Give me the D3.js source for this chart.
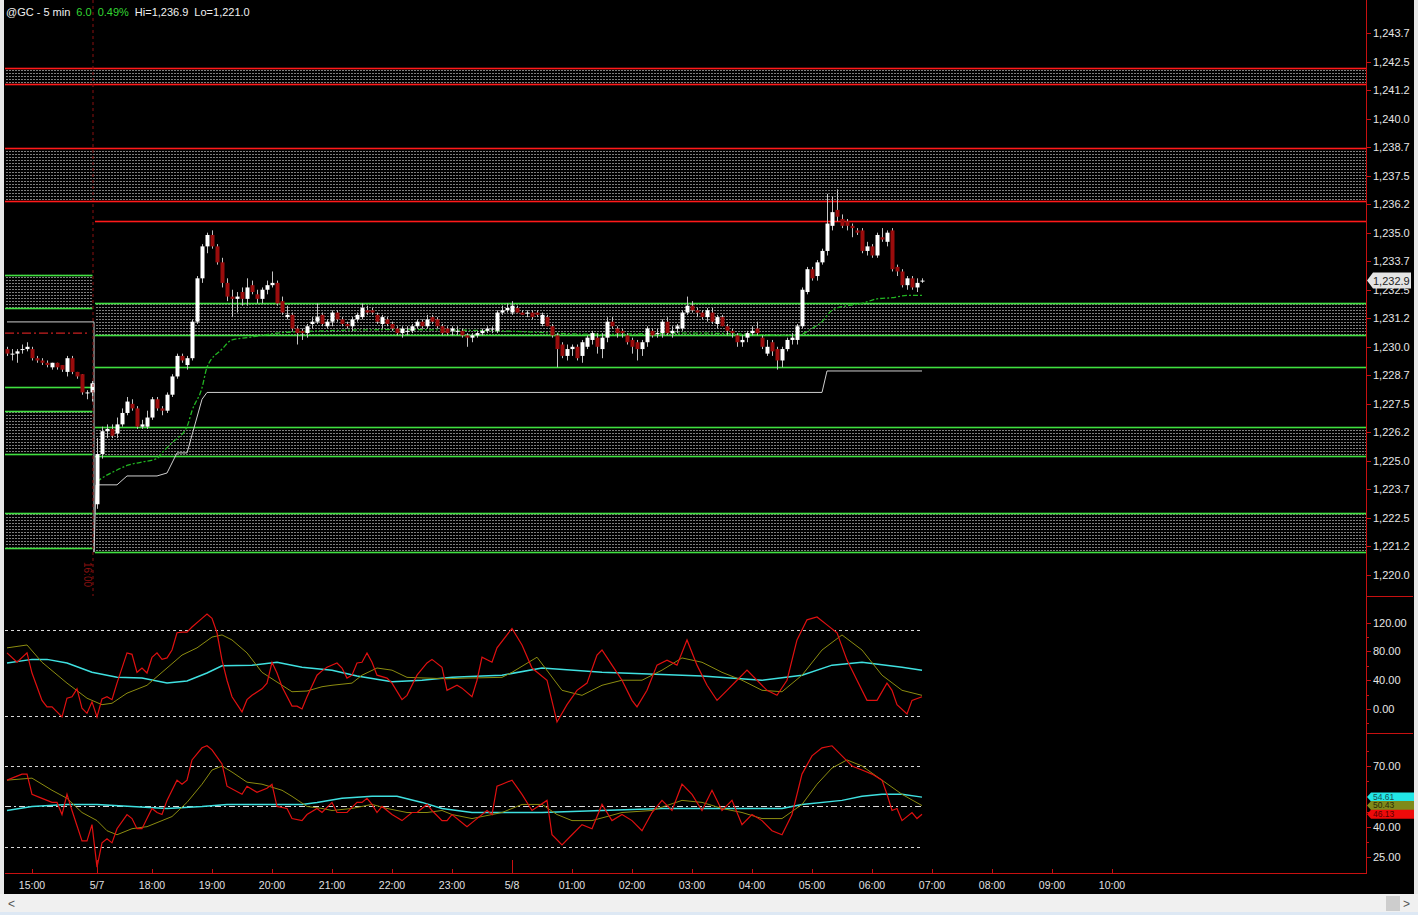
<!DOCTYPE html>
<html><head><meta charset="utf-8">
<script src="https://cdn.jsdelivr.net/npm/d3@7"></script>
<style>
html,body{margin:0;padding:0;background:#000;overflow:hidden}
svg{display:block}
text{font-family:"Liberation Sans",Arial,sans-serif}
</style></head><body>
<svg id="c" width="1418" height="915"></svg>
<script>
// ---------------- DATA ----------------
const symbolTitle = "@GC - 5 min";
const netChange = "6.0";
const pctChange = "0.49%";
const hiText = "Hi=1,236.9";
const loText = "Lo=1,221.0";
const lastPrice = 1232.9;
const firstBar = -18; // bar index of first candle (0 = 17:05 bar of 5/7)
// [open, high, low, close]
const ohlc = [
[1229.9,1230.0,1229.6,1229.7],[1229.7,1229.9,1229.4,1229.7],[1229.7,1229.9,1229.3,1229.8],[1229.9,1230.1,1229.7,1229.9],
[1229.9,1230.2,1229.8,1230.0],[1229.9,1230.0,1229.4,1229.5],[1229.5,1229.6,1229.3,1229.4],[1229.4,1229.5,1229.2,1229.3],
[1229.3,1229.4,1229.1,1229.2],[1229.1,1229.3,1229.0,1229.3],[1229.3,1229.3,1229.0,1229.1],[1229.2,1229.2,1228.9,1229.0],
[1228.9,1229.6,1228.7,1229.5],[1229.5,1229.6,1228.8,1228.9],[1228.9,1228.9,1228.6,1228.7],[1228.8,1228.8,1227.9,1228.0],
[1228.0,1228.1,1227.7,1228.0],[1228.0,1228.5,1227.6,1228.4],
// session 5/7
[1223.1,1226.0,1222.9,1225.3],[1225.3,1226.5,1225.1,1226.3],[1226.3,1226.6,1226.0,1226.4],[1226.4,1226.6,1226.0,1226.1],
[1226.2,1226.9,1226.0,1226.6],[1226.6,1227.3,1226.5,1227.1],[1227.1,1227.8,1227.0,1227.6],[1227.5,1227.7,1227.2,1227.3],
[1227.3,1227.4,1226.4,1226.5],[1226.5,1226.8,1226.4,1226.6],[1226.5,1227.2,1226.4,1226.9],[1226.9,1227.8,1226.8,1227.7],
[1227.7,1227.8,1227.2,1227.3],[1227.3,1227.4,1227.0,1227.2],[1227.2,1228.0,1227.1,1227.9],[1227.9,1228.8,1227.8,1228.7],
[1228.7,1229.7,1228.6,1229.6],[1229.6,1229.7,1229.3,1229.4],[1229.2,1229.6,1229.0,1229.5],[1229.5,1231.2,1229.4,1231.1],
[1231.1,1233.1,1231.0,1233.0],[1233.0,1234.5,1232.8,1234.4],[1234.4,1235.0,1234.1,1234.9],[1234.9,1235.1,1234.3,1234.4],
[1234.4,1234.5,1233.6,1233.7],[1233.7,1233.9,1232.6,1232.8],[1232.8,1233.0,1232.0,1232.2],[1232.2,1232.5,1231.3,1232.1],
[1232.1,1232.4,1231.5,1232.2],[1232.4,1232.6,1231.8,1232.1],[1232.1,1233.0,1231.8,1232.6],[1232.7,1232.9,1232.3,1232.4],
[1232.3,1232.5,1231.9,1232.1],[1232.1,1232.6,1231.9,1232.5],[1232.5,1232.9,1232.3,1232.7],[1232.7,1233.3,1232.6,1232.8],
[1232.8,1232.9,1231.8,1231.9],[1232.0,1232.2,1231.4,1231.5],[1231.3,1231.8,1231.2,1231.4],[1231.4,1231.5,1230.7,1230.8],
[1230.8,1230.9,1230.1,1230.6],[1230.7,1230.8,1230.3,1230.6],[1230.6,1231.0,1230.4,1230.9],[1231.0,1231.3,1230.8,1231.1],
[1231.1,1231.9,1231.0,1231.3],[1231.4,1231.5,1230.9,1231.0],[1230.9,1231.2,1230.8,1231.1],[1231.1,1231.6,1230.9,1231.5],
[1231.5,1231.6,1231.1,1231.2],[1231.2,1231.3,1230.9,1231.0],[1231.0,1231.1,1230.8,1230.9],[1230.9,1231.3,1230.7,1231.2],
[1231.2,1231.5,1231.1,1231.4],[1231.3,1231.9,1231.2,1231.7],[1231.6,1231.8,1231.4,1231.5],[1231.6,1231.7,1231.4,1231.5],
[1231.4,1231.5,1231.0,1231.1],[1231.0,1231.4,1230.8,1231.3],[1231.2,1231.3,1230.9,1231.0],[1231.0,1231.1,1230.7,1230.8],
[1230.8,1230.9,1230.5,1230.6],[1230.6,1230.9,1230.4,1230.8],[1230.7,1230.9,1230.5,1230.7],[1230.7,1231.0,1230.6,1230.9],
[1230.9,1231.2,1230.8,1231.1],[1231.1,1231.2,1230.8,1230.9],[1230.9,1231.4,1230.8,1231.2],[1231.3,1231.4,1231.0,1231.1],
[1231.2,1231.3,1230.8,1230.9],[1230.9,1231.0,1230.5,1230.6],[1230.8,1230.9,1230.5,1230.6],[1230.7,1230.9,1230.5,1230.8],
[1230.7,1230.9,1230.5,1230.7],[1230.7,1230.8,1230.4,1230.5],[1230.5,1230.6,1230.0,1230.4],[1230.4,1230.6,1230.2,1230.5],
[1230.5,1230.7,1230.4,1230.6],[1230.6,1230.8,1230.5,1230.7],[1230.7,1230.9,1230.6,1230.8],[1230.8,1230.9,1230.6,1230.8],
[1230.7,1231.6,1230.6,1231.5],[1231.5,1231.8,1231.4,1231.6],[1231.6,1231.9,1231.5,1231.7],[1231.5,1232.0,1231.4,1231.8],
[1231.7,1231.8,1231.5,1231.5],[1231.5,1231.6,1231.4,1231.4],[1231.5,1231.6,1231.3,1231.5],[1231.5,1231.6,1231.2,1231.3],
[1231.5,1231.6,1231.3,1231.4],[1231.0,1231.5,1230.9,1231.4],[1231.3,1231.4,1230.9,1230.9],[1230.9,1231.0,1230.4,1230.5],
[1230.5,1230.6,1229.1,1229.9],[1230.1,1230.2,1229.5,1229.6],[1229.6,1230.1,1229.4,1229.9],[1229.9,1230.1,1229.6,1230.0],
[1230.0,1230.1,1229.4,1229.5],[1229.6,1230.3,1229.3,1230.2],[1230.0,1230.5,1229.9,1230.4],[1230.3,1230.7,1230.1,1230.6],
[1230.4,1230.6,1229.7,1230.0],[1229.9,1230.6,1229.5,1230.4],[1230.4,1231.3,1230.2,1231.1],[1231.1,1231.3,1230.8,1230.9],
[1230.8,1230.9,1230.4,1230.6],[1230.7,1230.8,1230.4,1230.6],[1230.5,1230.6,1230.1,1230.2],[1230.3,1230.4,1229.7,1230.0],
[1230.2,1230.3,1229.4,1229.9],[1229.9,1230.3,1229.6,1230.2],[1230.2,1230.9,1230.0,1230.8],[1230.7,1230.8,1230.4,1230.5],
[1230.6,1230.8,1230.4,1230.6],[1230.6,1231.2,1230.4,1231.1],[1231.1,1231.3,1230.5,1230.6],[1230.6,1230.9,1230.4,1230.7],
[1230.8,1231.0,1230.6,1230.9],[1230.8,1231.6,1230.7,1231.5],[1231.5,1232.2,1231.4,1231.8],[1231.8,1232.0,1231.5,1231.6],
[1231.6,1231.7,1231.3,1231.5],[1231.5,1231.6,1231.2,1231.3],[1231.3,1231.7,1231.1,1231.6],[1231.5,1231.7,1231.0,1231.1],
[1231.0,1231.4,1230.8,1231.3],[1231.3,1231.4,1230.9,1230.9],[1230.9,1231.0,1230.5,1230.7],[1230.7,1230.8,1230.4,1230.6],
[1230.5,1230.6,1230.0,1230.2],[1230.2,1230.5,1230.0,1230.3],[1230.4,1230.7,1230.2,1230.6],[1230.6,1230.9,1230.5,1230.7],
[1230.8,1231.1,1230.5,1230.6],[1230.4,1230.5,1229.9,1230.0],[1229.7,1230.3,1229.6,1230.0],[1230.2,1230.3,1229.6,1229.8],
[1229.9,1230.0,1229.0,1229.4],[1229.4,1230.0,1229.1,1229.9],[1229.9,1230.4,1229.8,1230.3],[1230.3,1230.6,1230.1,1230.4],
[1230.3,1231.0,1230.1,1230.9],[1230.9,1232.6,1230.8,1232.5],[1232.4,1233.5,1232.3,1233.4],[1233.4,1233.5,1232.9,1233.0],
[1233.1,1233.8,1232.9,1233.7],[1233.7,1234.3,1233.6,1234.2],[1234.2,1236.7,1234.0,1235.4],[1235.3,1236.6,1235.1,1235.9],
[1236.0,1236.9,1235.5,1235.7],[1235.6,1235.8,1235.2,1235.3],[1235.5,1235.6,1235.1,1235.3],[1235.3,1235.4,1234.8,1235.2],
[1235.1,1235.2,1234.9,1235.0],[1235.1,1235.2,1234.1,1234.2],[1234.2,1234.6,1234.0,1234.4],[1234.4,1234.5,1233.9,1234.0],
[1234.0,1235.0,1233.9,1234.9],[1234.8,1235.2,1234.6,1234.7],[1234.6,1235.1,1234.4,1235.0],[1235.1,1235.2,1233.3,1233.4],
[1233.5,1233.6,1233.1,1233.3],[1233.3,1233.4,1232.6,1232.7],[1232.7,1233.1,1232.5,1233.0],[1233.0,1233.1,1232.5,1232.6],
[1232.6,1233.0,1232.4,1232.8],[1232.9,1233.0,1232.8,1232.9]
];
// support / resistance zones: session "prev", "cur" or "all"
const zones = [
  {side:"all",  hi:1242.2,  lo:1241.5,  kind:"res"},
  {side:"all",  hi:1238.7,  lo:1236.4,  kind:"res"},
  {side:"cur",  hi:1235.5,  lo:null,    kind:"res"},
  {side:"cur",  hi:1231.9,  lo:1230.5,  kind:"sup"},
  {side:"cur",  hi:1229.1,  lo:null,    kind:"sup"},
  {side:"cur",  hi:1226.5,  lo:1225.2,  kind:"sup"},
  {side:"cur",  hi:1222.7,  lo:1221.0,  kind:"sup"},
  {side:"prev", hi:1233.15, lo:1231.7,  kind:"sup"},
  {side:"prev", hi:1228.24, lo:null,    kind:"sup"},
  {side:"prev", hi:1227.2,  lo:1225.3,  kind:"sup"},
  {side:"prev", hi:1222.7,  lo:1221.2,  kind:"sup"}
];
const prevRefLevel = 1230.6; // red dash-dot level of previous session
// white step line [bar, price]
const stepLine = [[-18,1231.09],[-1,1231.09],[-0.6,1231.09],[-0.6,1221.0],[-0.2,1223.95],[4,1223.95],[6,1224.34],[12,1224.34],[14,1224.47],[16,1225.35],[18,1225.35],[21,1227.7],[22,1228.0],[145,1228.0],[146,1228.94],[165,1228.94]];
// green dashed average [bar, price]
const avgLine = [[0,1224.1],[1,1224.25],[4,1224.6],[6,1224.8],[9,1224.95],[12,1225.1],[13,1225.35],[15,1225.8],[18,1226.5],[19,1227.2],[21,1228.2],[22,1229.1],[25,1229.9],[27,1230.3],[30,1230.4],[33,1230.5],[36,1230.6],[39,1230.65],[60,1230.75],[80,1230.7],[100,1230.55],[120,1230.6],[140,1230.5],[143,1230.8],[145,1231.1],[147,1231.6],[150,1231.8],[153,1231.9],[156,1232.1],[159,1232.15],[162,1232.25],[165,1232.25]];

// indicator panel 1 [bar, value]
const p1Red = [[-18,78],[-16,65],[-14,78],[-13,50],[-11,12],[-10,3],[-9,3],[-7,-11],[-6,15],[-5,17],[-4,28],[-3,1],[-2,-6],[-1,10],[0,-11],[1,14],[2,17],[3,13],[4,36],[6,78],[7,76],[8,51],[9,57],[10,50],[11,72],[12,78],[13,69],[14,71],[15,82],[16,106],[17,107],[18,107],[19,114],[21,126],[22,132],[23,126],[24,106],[25,68],[26,40],[27,17],[29,-4],[30,13],[31,19],[33,28],[34,36],[35,65],[36,50],[37,31],[39,4],[40,4],[41,0],[42,17],[44,47],[45,53],[46,58],[48,64],[49,57],[50,43],[51,47],[52,64],[53,65],[54,78],[55,65],[56,47],[58,43],[59,36],[61,13],[62,19],[64,47],[66,64],[67,69],[69,58],[70,26],[72,33],[73,29],[75,17],[76,40],[77,72],[79,65],[80,85],[83,112],[85,89],[87,57],[90,40],[92,-18],[94,6],[96,26],[98,36],[100,75],[101,82],[103,61],[105,40],[107,12],[108,3],[110,26],[112,61],[114,68],[116,61],[118,96],[120,61],[122,33],[124,12],[126,26],[128,40],[130,54],[132,40],[134,26],[136,19],[138,40],[140,96],[142,124],[144,128],[146,117],[148,106],[150,68],[152,40],[154,12],[156,12],[158,36],[159,26],[160,6],[162,-7],[163,12],[165,17]];
const p1Olive = [[-18,85],[-14,89],[-11,65],[-6,36],[-2,15],[1,6],[3,8],[6,22],[10,33],[13,51],[17,75],[20,85],[23,100],[25,103],[27,96],[30,78],[33,51],[37,33],[39,24],[42,25],[45,31],[47,33],[51,36],[53,47],[56,57],[59,54],[62,44],[66,43],[70,42],[74,43],[81,44],[83,51],[88,72],[93,26],[97,19],[101,33],[105,40],[109,40],[113,54],[117,71],[121,65],[125,51],[129,40],[133,26],[137,24],[141,47],[145,82],[149,103],[153,82],[157,47],[161,26],[165,19]];
const p1Cyan = [[-18,64],[-13,69],[-10,69],[-6,64],[-1,51],[4,44],[9,43],[14,36],[18,39],[22,50],[25,60],[31,61],[36,65],[41,58],[47,54],[52,46],[59,38],[65,40],[71,44],[77,46],[81,47],[89,57],[101,51],[121,46],[133,40],[141,47],[147,61],[153,65],[161,58],[165,54]];
const p1Levels = [110, -10];
// indicator panel 2 [bar, value]
const p2Red = [[-18,63],[-16,65],[-15,66],[-14,66],[-13,56],[-11,54],[-9,52],[-8,52],[-7,46],[-6,56],[-5,48],[-3,33],[-2,33],[-1,41],[0,20],[1,32],[2,34],[3,32],[4,39],[6,46],[7,44],[8,39],[9,39],[10,44],[11,49],[12,47],[13,46],[14,53],[16,63],[17,61],[18,63],[19,73],[21,79],[22,80],[23,78],[25,71],[26,60],[29,56],[30,60],[32,57],[34,59],[35,61],[36,50],[38,49],[39,44],[41,43],[42,46],[44,49],[45,47],[47,52],[48,47],[50,47],[52,52],[53,52],[54,54],[55,51],[56,47],[57,50],[59,46],[61,43],[63,47],[64,47],[66,51],[67,48],[69,43],[70,43],[71,46],[74,40],[75,42],[78,48],[79,46],[80,60],[81,61],[83,63],[85,56],[87,48],[90,53],[91,36],[93,31],[95,36],[97,41],[99,39],[101,51],[103,43],[105,46],[107,43],[109,38],[111,47],[113,53],[115,48],[117,61],[119,56],[121,48],[123,58],[125,48],[127,53],[129,41],[131,46],[133,43],[135,38],[137,36],[139,46],[141,66],[143,75],[145,79],[147,80],[149,75],[151,70],[153,68],[155,66],[157,63],[158,56],[159,48],[160,49],[161,43],[163,47],[164,44],[165,46.13]];
const p2Olive = [[-18,63],[-13,64],[-9,58],[-6,54],[-3,47],[0,43],[2,38],[4,36],[7,39],[10,40],[13,43],[15,45],[18,52],[21,61],[23,68],[25,70],[27,67],[30,62],[33,61],[37,58],[39,55],[42,50],[45,49],[47,48],[51,49],[55,51],[58,49],[62,47],[66,47],[69,48],[71,46],[75,44],[79,46],[81,47],[85,51],[89,51],[92,46],[95,43],[99,43],[105,47],[111,48],[117,53],[121,52],[125,49],[129,47],[133,44],[137,44],[141,51],[144,61],[147,69],[150,73],[153,70],[157,63],[161,56],[165,50.43]];
const p2Cyan = [[-18,48],[-13,50],[-6,51],[0,51],[7,50],[14,49],[21,50],[26,51],[34,51],[41,51],[44,52],[49,54],[55,55],[60,55],[65,52],[69,49],[75,47],[81,47],[89,47],[101,48],[113,49],[125,49],[137,49],[141,51],[149,53],[153,55],[157,56],[161,56],[165,54.61]];
const p2Levels = [70, 50, 30];
// axes
const priceTicks = [1220,1221.25,1222.5,1223.75,1225,1226.25,1227.5,1228.75,1230,1231.25,1232.5,1233.75,1235,1236.25,1237.5,1238.75,1240,1241.25,1242.5,1243.75];
const p1Ticks = [120,80,40,0];
const p1Minor = [100,60,20,-20];
const p2Ticks = [70,55,40,25];
const p2Minor = [77.5,62.5,47.5,32.5];
const timeTicks = [["15:00",-13],["5/7",0],["18:00",11],["19:00",23],["20:00",35],["21:00",47],["22:00",59],["23:00",71],["5/8",83],["01:00",95],["02:00",107],["03:00",119],["04:00",131],["05:00",143],["06:00",155],["07:00",167],["08:00",179],["09:00",191],["10:00",203]];
const dateTicks = ["5/7","5/8"];
const sessionBreakLabel = "16:00";

// ---------------- DRAW ----------------
const W = 1418, H = 915;
const plotL = 5, axisX = 1366, axisR = 1413;
const svg = d3.select("#c");
svg.append("rect").attr("width",W).attr("height",H).attr("fill","#000");

const x = d3.scaleLinear().domain([0,165]).range([97,922]);
const yP = d3.scaleLinear().domain([1220,1243.75]).range([575,33]);
const y1 = d3.scaleLinear().domain([0,120]).range([709,622.7]);
const y2 = d3.scaleLinear().domain([25,70]).range([857,766]);

const defs = svg.append("defs");
const pat = defs.append("pattern").attr("id","hatch").attr("width",3).attr("height",3).attr("patternUnits","userSpaceOnUse");
pat.append("rect").attr("x",0).attr("y",1).attr("width",2).attr("height",1).attr("fill","#7e7e7e");
defs.append("clipPath").attr("id","cp0").append("rect").attr("x",plotL).attr("y",0).attr("width",axisX-plotL).attr("height",596);
defs.append("clipPath").attr("id","cp1").append("rect").attr("x",plotL).attr("y",597).attr("width",axisX-plotL).attr("height",136);
defs.append("clipPath").attr("id","cp2").append("rect").attr("x",plotL).attr("y",734).attr("width",axisX-plotL).attr("height",138);

const gP = svg.append("g").attr("clip-path","url(#cp0)");
const sideX = {prev:[plotL, x(-1)+0.5], cur:[x(-0.4), axisX], all:[plotL, axisX]};
const zoneCol = {res:"#ff1a1a", sup:"#40e040"};

zones.forEach(z => {
  const [xa, xb] = sideX[z.side];
  if (z.lo !== null) {
    gP.append("rect").attr("x",xa).attr("width",xb-xa)
      .attr("y",yP(z.hi)).attr("height",yP(z.lo)-yP(z.hi)).attr("fill","url(#hatch)");
  }
  [z.hi, z.lo].filter(v=>v!==null).forEach(v=>{
    gP.append("rect").attr("x",xa).attr("width",xb-xa)
      .attr("y",Math.round(yP(v))-0.3).attr("height",1.6)
      .attr("fill",zoneCol[z.kind]);
  });
});
// previous-session reference (dash-dot)
gP.append("line").attr("x1",plotL).attr("x2",x(-1.4))
  .attr("y1",yP(prevRefLevel)).attr("y2",yP(prevRefLevel))
  .attr("stroke","#c82020").attr("stroke-width",1.3).attr("stroke-dasharray","9,3,2,3");

// session break line
svg.append("line").attr("x1",x(-0.8)).attr("x2",x(-0.8)).attr("y1",0).attr("y2",596)
  .attr("stroke","#8a1010").attr("stroke-dasharray","3,3");
svg.append("text").attr("transform",`translate(${x(-0.8)-9},562) rotate(90)`)
  .attr("font-size",10).attr("fill","#8a1010").text(sessionBreakLabel);

// step line
gP.append("path").datum(stepLine)
  .attr("d", d3.line().x(d=>x(d[0])).y(d=>yP(d[1])))
  .attr("fill","none").attr("stroke","#cfcfcf").attr("stroke-width",1);
// avg line
gP.append("path").datum(avgLine)
  .attr("d", d3.line().x(d=>x(d[0])).y(d=>yP(d[1])).curve(d3.curveMonotoneX))
  .attr("fill","none").attr("stroke","#22b422").attr("stroke-width",1.3).attr("stroke-dasharray","5,2,2,2");

// candles
const candles = ohlc.map((d,i)=>({s:firstBar+i,o:d[0],h:d[1],l:d[2],c:d[3]}));
gP.selectAll("line.wick").data(candles).enter().append("line")
  .attr("x1",d=>x(d.s)+0.5).attr("x2",d=>x(d.s)+0.5)
  .attr("y1",d=>yP(d.h)).attr("y2",d=>yP(d.l))
  .attr("stroke","#c4c4c4").attr("stroke-width",1);
gP.selectAll("rect.body").data(candles).enter().append("rect")
  .attr("x",d=>x(d.s)-1.5).attr("width",4)
  .attr("y",d=>yP(Math.max(d.o,d.c)))
  .attr("height",d=>Math.max(1,Math.abs(yP(d.o)-yP(d.c))))
  .attr("fill",d=>d.c>=d.o?"#ffffff":"#9a0c0c");

// indicator panels
function panel(clip, yS, levels, series, dashMid){
  const g = svg.append("g").attr("clip-path",`url(#${clip})`);
  levels.forEach((v,i)=>{
    g.append("line").attr("x1",plotL).attr("x2",x(165))
      .attr("y1",Math.round(yS(v))+0.5).attr("y2",Math.round(yS(v))+0.5)
      .attr("stroke","#d8d8d8").attr("stroke-width",1)
      .attr("stroke-dasharray", (dashMid && i===1) ? "6,3,2,3" : "3,3");
  });
  series.forEach(s=>{
    g.append("path").datum(s.data)
      .attr("d", d3.line().x(d=>x(d[0])).y(d=>yS(d[1])))
      .attr("fill","none").attr("stroke",s.color).attr("stroke-width",s.w);
  });
}
panel("cp1", y1, p1Levels, [{data:p1Cyan,color:"#3fe0e0",w:1.5},{data:p1Olive,color:"#8c8c10",w:1},{data:p1Red,color:"#e01010",w:1.2}], false);
panel("cp2", y2, p2Levels, [{data:p2Cyan,color:"#3fe0e0",w:1.5},{data:p2Olive,color:"#8c8c10",w:1},{data:p2Red,color:"#e01010",w:1.2}], true);

// right axis
const axCol = "#c81010";
svg.append("line").attr("x1",axisX+0.5).attr("x2",axisX+0.5).attr("y1",0).attr("y2",873).attr("stroke",axCol);
[596.5,733.5].forEach(yy=>svg.append("line").attr("x1",axisX).attr("x2",axisR).attr("y1",yy).attr("y2",yy).attr("stroke",axCol));
svg.append("line").attr("x1",plotL).attr("x2",axisX+1).attr("y1",873.5).attr("y2",873.5).attr("stroke",axCol);

const fmtP = v => d3.format(",.1f")(Math.floor(v*10+1e-6)/10);
function yLabels(ticks, minor, yS, fmt){
  ticks.forEach(v=>{
    const yy = Math.round(yS(v))+0.5;
    svg.append("line").attr("x1",axisX).attr("x2",axisX+5).attr("y1",yy).attr("y2",yy).attr("stroke",axCol);
    svg.append("text").attr("x",axisX+7).attr("y",yy).attr("dy","0.35em")
      .attr("font-size",11).attr("fill","#e6e6e6").text(fmt(v));
  });
  minor.forEach(v=>{
    const yy = Math.round(yS(v))+0.5;
    svg.append("line").attr("x1",axisX).attr("x2",axisX+3).attr("y1",yy).attr("y2",yy).attr("stroke",axCol);
  });
}
yLabels(priceTicks, [], yP, fmtP);
yLabels(p1Ticks, p1Minor, y1, d3.format(".2f"));
yLabels(p2Ticks.filter(v=>v!==55), p2Minor, y2, d3.format(".2f"));

// badges
function badge(yy, txt, bg, fg){
  const h = 9;
  svg.append("path").attr("d",`M${axisX+1},${yy} L${axisX+5},${yy-h/2} L${axisR+2},${yy-h/2} L${axisR+2},${yy+h/2} L${axisX+5},${yy+h/2} Z`).attr("fill",bg);
  svg.append("text").attr("x",axisX+7).attr("y",yy).attr("dy","0.34em").attr("font-size",8.5).attr("fill",fg).text(txt);
}
(function(){
  const yy = yP(lastPrice);
  svg.append("path").attr("d",`M${axisX+1},${yy} L${axisX+7},${yy-8} L${axisR-2},${yy-8} L${axisR-2},${yy+8} L${axisX+7},${yy+8} Z`).attr("fill","#e4e4e4");
  svg.append("text").attr("x",axisX+7).attr("y",yy).attr("dy","0.36em").attr("font-size",11).attr("fill","#222").text(fmtP(lastPrice));
})();
badge(y2(p2Cyan[p2Cyan.length-1][1]), d3.format(".2f")(p2Cyan[p2Cyan.length-1][1]), "#22e6e6", "#1a5050");
badge(y2(p2Olive[p2Olive.length-1][1]), d3.format(".2f")(p2Olive[p2Olive.length-1][1]), "#7f8a1a", "#2a2a08");
badge(y2(p2Red[p2Red.length-1][1]), d3.format(".2f")(p2Red[p2Red.length-1][1]), "#ee0a0a", "#5a0000");

// time axis
timeTicks.forEach(([lab,s])=>{
  const xx = Math.round(x(s))+0.5;
  const isDate = dateTicks.includes(lab);
  svg.append("line").attr("x1",xx).attr("x2",xx).attr("y1",isDate?860:869).attr("y2",873).attr("stroke",axCol);
  svg.append("text").attr("x",x(s)).attr("y",889).attr("text-anchor","middle")
    .attr("font-size",10.5).attr("fill","#e0e0e0").text(lab);
});

// header
const hdr = svg.append("text").attr("x",6).attr("y",16).attr("font-size",11).attr("fill","#f0f0f0");
hdr.append("tspan").text(symbolTitle);
hdr.append("tspan").attr("dx",6).attr("fill","#33d633").text(netChange);
hdr.append("tspan").attr("dx",6).attr("fill","#33d633").text(pctChange);
hdr.append("tspan").attr("dx",6).text(hiText);
hdr.append("tspan").attr("dx",6).text(loText);

// window chrome
svg.append("rect").attr("x",0).attr("y",0).attr("width",4).attr("height",H).attr("fill","#e8e8e8");
svg.append("rect").attr("x",axisR+1).attr("y",0).attr("width",W-axisR-1).attr("height",H).attr("fill","#e8e8e8");
svg.append("rect").attr("x",0).attr("y",894).attr("width",W).attr("height",21).attr("fill","#f0f0f0");
svg.append("rect").attr("x",0).attr("y",912).attr("width",W).attr("height",3).attr("fill","#dde8f4");
svg.append("rect").attr("x",1386).attr("y",896).attr("width",14).attr("height",15).attr("fill","#cdcdcd");
svg.append("text").attr("x",8).attr("y",908).attr("font-size",12).attr("fill","#555").text("<");
svg.append("text").attr("x",1403).attr("y",908).attr("font-size",12).attr("fill","#555").text(">");
</script>
</body></html>
